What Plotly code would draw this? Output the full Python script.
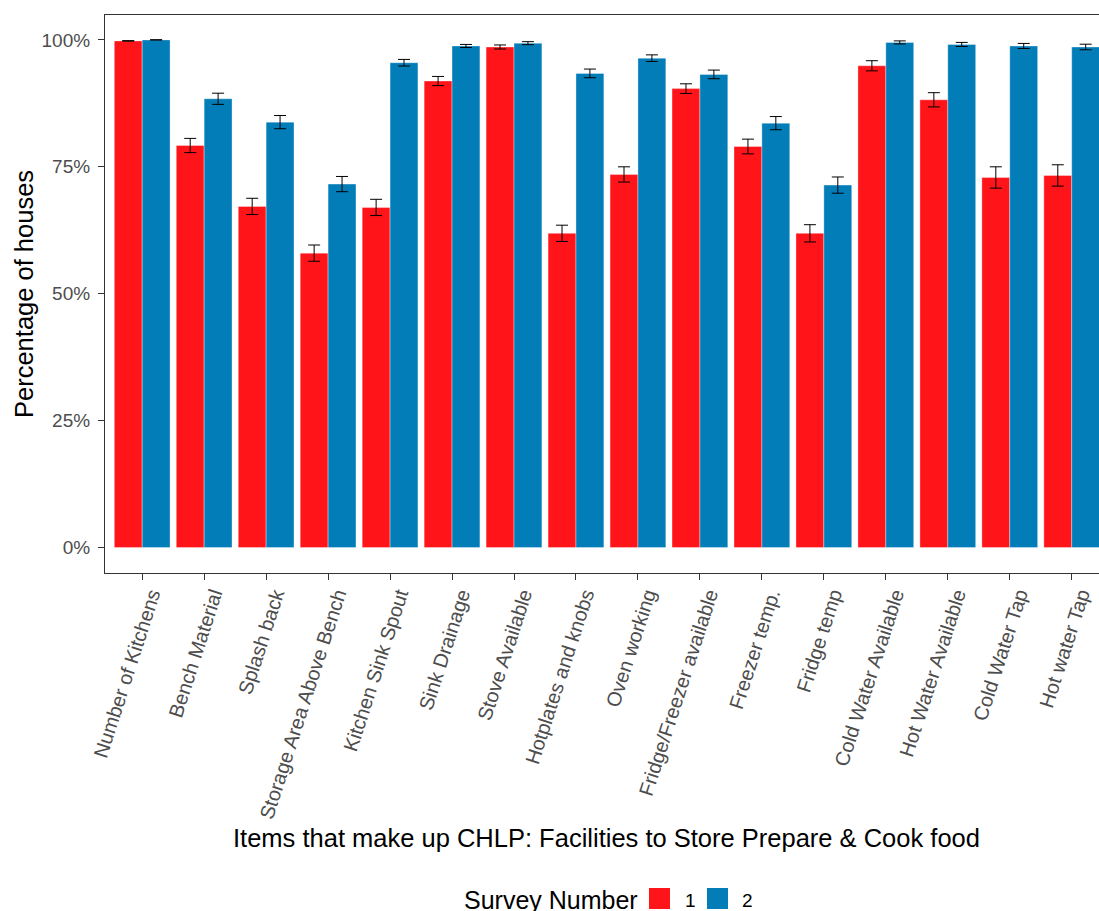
import plotly.graph_objects as go

categories = ["Number of Kitchens", "Bench Material", "Splash back", "Storage Area Above Bench",
              "Kitchen Sink Spout", "Sink Drainage", "Stove Available", "Hotplates and knobs",
              "Oven working", "Fridge/Freezer available", "Freezer temp.", "Fridge temp",
              "Cold Water Available", "Hot Water Available", "Cold Water Tap", "Hot water Tap"]

survey1 = [99.8, 79.2, 67.2, 58.0, 67.0, 91.9, 98.6, 61.9, 73.5, 90.4, 79.0, 61.9, 94.9, 88.2, 72.9, 73.3]
survey1_err = [0.05, 1.4, 1.6, 1.6, 1.6, 0.9, 0.4, 1.6, 1.5, 0.95, 1.45, 1.7, 1.0, 1.4, 2.1, 2.1]
survey2 = [100.0, 88.4, 83.8, 71.6, 95.5, 98.8, 99.35, 93.4, 96.4, 93.2, 83.6, 71.4, 99.5, 99.1, 98.8, 98.6]
survey2_err = [0.02, 1.1, 1.3, 1.5, 0.65, 0.3, 0.3, 0.85, 0.65, 0.85, 1.3, 1.6, 0.3, 0.4, 0.5, 0.55]

y_ticks = [0, 25, 50, 75, 100]
y_tick_labels = ["0%", "25%", "50%", "75%", "100%"]

RED = "#FF141A"
BLUE = "#037DB8"
FONT = "Arial, Liberation Sans, sans-serif"

fig = go.Figure()
for name, vals, errs, col in [("1", survey1, survey1_err, RED), ("2", survey2, survey2_err, BLUE)]:
    fig.add_trace(go.Bar(
        x=categories, y=vals, name=name,
        marker=dict(color=col, line=dict(color="rgba(255,255,255,0.35)", width=1)),
        error_y=dict(type="data", array=errs, visible=True, color="black", thickness=1, width=6),
        showlegend=False,
    ))

W, H = 1099, 911
L, R, T, B = 105, 0, 15, 338
pw = W - L - R
ph = H - T - B

def px(x):
    return (x - L) / pw

def py(y):
    return (H - B - y) / ph

fig.update_layout(
    width=W, height=H,
    margin=dict(l=L, r=R, t=T, b=B, pad=0),
    paper_bgcolor="white", plot_bgcolor="white",
    barmode="group", bargap=0.1, bargroupgap=0,
    font=dict(family=FONT),
    xaxis=dict(
        type="category", range=[-0.6, 15.44],
        showline=True, linecolor="#333333", linewidth=1.1, mirror=True,
        ticks="outside", ticklen=6, tickcolor="#333333", tickwidth=1.1,
        tickangle=-72, tickfont=dict(size=20, color="#4D4D4D", family=FONT),
        ticklabelshift=9, ticklabelstandoff=-5,
        showgrid=False, zeroline=False,
    ),
    yaxis=dict(
        range=[-5, 104.9],
        tickvals=y_ticks, ticktext=y_tick_labels,
        showline=True, linecolor="#333333", linewidth=1.1,
        ticks="outside", ticklen=6, tickcolor="#333333", tickwidth=1.1,
        tickfont=dict(size=19, color="#4D4D4D", family=FONT),
        ticklabelstandoff=4,
        showgrid=False, zeroline=False,
    ),
)

# axis titles
fig.add_annotation(text="Percentage of houses", xref="paper", yref="paper",
                   x=px(24), y=py(294), textangle=-90, showarrow=False,
                   font=dict(size=25.5, color="black", family=FONT),
                   xanchor="center", yanchor="middle")
fig.add_annotation(text="Items that make up CHLP: Facilities to Store Prepare & Cook food",
                   xref="paper", yref="paper", x=px(606.5), y=py(838), showarrow=False,
                   font=dict(size=25.5, color="black", family=FONT),
                   xanchor="center", yanchor="middle")

# legend (manual)
fig.add_annotation(text="Survey Number", xref="paper", yref="paper",
                   x=px(462), y=py(900), showarrow=False, xanchor="left", yanchor="middle",
                   font=dict(size=25, color="black", family=FONT))
for x0, col, lab, lx in [(649, RED, "1", 683), (707, BLUE, "2", 740)]:
    fig.add_shape(type="rect", xref="paper", yref="paper",
                  x0=px(x0), x1=px(x0 + 21), y0=py(909), y1=py(888),
                  fillcolor=col, line=dict(width=0))
    fig.add_annotation(text=lab, xref="paper", yref="paper", x=px(lx), y=py(900),
                       showarrow=False, xanchor="left", yanchor="middle",
                       font=dict(size=19, color="black", family=FONT))

fig.write_html("out.html")
